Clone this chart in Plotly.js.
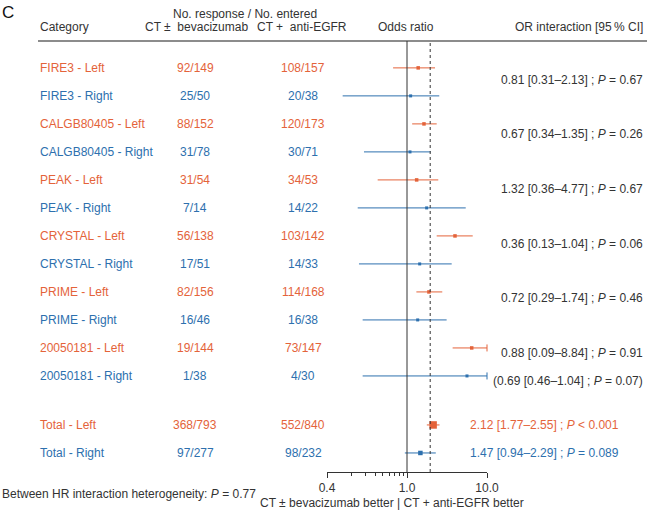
<!DOCTYPE html>
<html><head><meta charset="utf-8">
<script src="https://cdn.plot.ly/plotly-3.0.1.min.js"></script>
<style>html,body{margin:0;padding:0;background:#fff;} #chart{width:647px;height:512px;}</style>
</head><body><div id="chart"></div>
<script>
// ---------- data ----------
const categories = ["FIRE3 - Left","FIRE3 - Right","CALGB80405 - Left","CALGB80405 - Right","PEAK - Left","PEAK - Right","CRYSTAL - Left","CRYSTAL - Right","PRIME - Left","PRIME - Right","20050181 - Left","20050181 - Right","Total - Left","Total - Right"];
const sides = ["Left","Right","Left","Right","Left","Right","Left","Right","Left","Right","Left","Right","Left","Right"];
const isTotal = [false,false,false,false,false,false,false,false,false,false,false,false,true,true];
const bevResponse = ["92/149","25/50","88/152","31/78","31/54","7/14","56/138","17/51","82/156","16/46","19/144","1/38","368/793","97/277"];
const egfrResponse = ["108/157","20/38","120/173","30/71","34/53","14/22","103/142","14/33","114/168","16/38","73/147","4/30","552/840","98/232"];
const oddsRatio = [1.38,1.11,1.63,1.09,1.32,1.76,3.98,1.44,1.88,1.36,6.44,5.62,2.12,1.47];
const ciLow     = [0.67,0.157,1.16,0.29,0.43,0.242,2.35,0.251,1.31,0.279,3.72,0.279,1.77,0.94];
const ciHigh    = [2.24,2.53,2.35,1.98,2.46,5.42,6.63,3.62,2.76,3.13,10,10,2.55,2.29];
const pooledOR = 1.95;
const interactionLabels = [
  "0.81 [0.31–2.13] ; <i>P</i> = 0.67",
  "0.67 [0.34–1.35] ; <i>P</i> = 0.26",
  "1.32 [0.36–4.77] ; <i>P</i> = 0.67",
  "0.36 [0.13–1.04] ; <i>P</i> = 0.06",
  "0.72 [0.29–1.74] ; <i>P</i> = 0.46",
  "0.88 [0.09–8.84] ; <i>P</i> = 0.91",
  "(0.69 [0.46–1.04] ; <i>P</i> = 0.07)"
];
const totalLabels = ["2.12 [1.77–2.55] ; <i>P</i> &lt; 0.001", "1.47 [0.94–2.29] ; <i>P</i> = 0.089"];
const axisTickValues = [0.1, 1, 10];
const axisTickText = ["0.4", "1.0", "10.0"];
const minorTickValues = [0.2,0.3,0.4,0.5,0.6,0.7,0.8,0.9];
const heterogeneityText = "Between HR interaction heterogeneity: <i>P</i> = 0.77";
const axisCaption = "CT ± bevacizumab better | CT + anti-EGFR better";

// ---------- styling / layout ----------
const ORANGE = "#E4633A", BLUE = "#2D70AE", DARK = "#333333";
const FONT = "Liberation Sans, Arial, Helvetica, sans-serif";
const colorOf = s => s === "Left" ? ORANGE : BLUE;
const L = 327, R = 487, T = 41, B = 472;           // plot area in pixels
const px = x => (x - L) / (R - L);                 // pixel x -> paper x
const py = y => (B - y) / (B - T);                 // pixel y -> paper y
const rowY = i => isTotal[i] ? i + 0.75 : i;       // gap before totals

const traces = [];
function addGroup(filter, size) {
  const idx = categories.map((_, i) => i).filter(filter);
  if (!idx.length) return;
  const col = colorOf(sides[idx[0]]);
  traces.push({
    type: "scatter", mode: "markers",
    x: idx.map(i => oddsRatio[i]), y: idx.map(i => rowY(i)),
    marker: {symbol: "square", size: size, color: col, line: {width: 0}},
    error_x: {type: "data", symmetric: false,
      array: idx.map(i => ciHigh[i] - oddsRatio[i]),
      arrayminus: idx.map(i => oddsRatio[i] - ciLow[i]),
      thickness: 1, width: 0, color: col},
    cliponaxis: false, hoverinfo: "skip"
  });
}
addGroup(i => !isTotal[i] && sides[i] === "Left", 3.5);
addGroup(i => !isTotal[i] && sides[i] === "Right", 3);
addGroup(i => isTotal[i] && sides[i] === "Left", 7.5);
addGroup(i => isTotal[i] && sides[i] === "Right", 4.5);
// clipped CI markers
const clipped = categories.map((_, i) => i).filter(i => ciHigh[i] >= 10);
traces.push({
  type: "scatter", mode: "markers",
  x: clipped.map(i => ciHigh[i]), y: clipped.map(i => rowY(i)),
  marker: {symbol: "line-ns", size: 5, line: {width: 1, color: clipped.map(i => colorOf(sides[i]))}},
  cliponaxis: false, hoverinfo: "skip"
});

const ann = [];
const A = (o) => ann.push(Object.assign({showarrow: false, font: {family: FONT, size: 12, color: DARK}}, o));
categories.forEach((c, i) => {
  const col = colorOf(sides[i]);
  A({text: c, xref: "paper", yref: "y", x: px(38), y: rowY(i), xanchor: "left", yanchor: "middle", font: {family: FONT, size: 12, color: col}});
  A({text: bevResponse[i], xref: "paper", yref: "y", x: px(195), y: rowY(i), xanchor: "center", yanchor: "middle", font: {family: FONT, size: 12, color: col}});
  A({text: egfrResponse[i], xref: "paper", yref: "y", x: px(303), y: rowY(i), xanchor: "center", yanchor: "middle", font: {family: FONT, size: 12, color: col}});
});
const interactionPixY = [80, 134, 189, 244, 298, 353, 381];
interactionLabels.forEach((t, k) => {
  A({text: t, xref: "paper", yref: "paper", x: px(645), y: py(interactionPixY[k]), xanchor: "right", yanchor: "middle"});
});
totalLabels.forEach((t, k) => {
  const i = 12 + k;
  A({text: t, xref: "paper", yref: "y", x: px(468), y: rowY(i), xanchor: "left", yanchor: "middle", font: {family: FONT, size: 12, color: colorOf(sides[i])}});
});
// headers
A({text: "C", xref: "paper", yref: "paper", x: px(0), y: py(12), xanchor: "left", yanchor: "middle", font: {family: FONT, size: 17, color: "#111"}});
A({text: "No. response / No. entered", xref: "paper", yref: "paper", x: px(245), y: py(14), xanchor: "center", yanchor: "middle"});
A({text: "Category", xref: "paper", yref: "paper", x: px(38), y: py(27), xanchor: "left", yanchor: "middle"});
A({text: "CT ±  bevacizumab", xref: "paper", yref: "paper", x: px(196), y: py(27), xanchor: "center", yanchor: "middle"});
A({text: "CT +  anti-EGFR", xref: "paper", yref: "paper", x: px(302), y: py(27), xanchor: "center", yanchor: "middle"});
A({text: "Odds ratio", xref: "paper", yref: "paper", x: px(406), y: py(27), xanchor: "center", yanchor: "middle"});
A({text: "OR interaction [95\u2009% CI]", xref: "paper", yref: "paper", x: px(645), y: py(27), xanchor: "right", yanchor: "middle"});
// footer
A({text: heterogeneityText, xref: "paper", yref: "paper", x: px(0), y: py(494), xanchor: "left", yanchor: "middle"});
A({text: axisCaption, xref: "paper", yref: "paper", x: px(392), y: py(503), xanchor: "center", yanchor: "middle"});

const layout = {
  width: 647, height: 512,
  margin: {l: L, r: 647 - R, t: T, b: 512 - B, pad: 0},
  paper_bgcolor: "#fff", plot_bgcolor: "#fff",
  showlegend: false,
  font: {family: FONT, size: 12, color: DARK},
  xaxis: {
    type: "log", range: [Math.log10(axisTickValues[0]), Math.log10(axisTickValues[2])],
    tickmode: "array", tickvals: axisTickValues, ticktext: axisTickText,
    ticks: "outside", ticklen: 5, tickwidth: 1, tickcolor: DARK,
    showline: true, linecolor: DARK, linewidth: 1,
    showgrid: false, zeroline: false, fixedrange: true,
    tickfont: {family: FONT, size: 12, color: DARK},
    minor: {tickmode: "array", tickvals: minorTickValues, ticks: "outside", ticklen: 3, tickwidth: 1, tickcolor: DARK, showgrid: false}
  },
  yaxis: {range: [14.43, -0.96], visible: false, fixedrange: true},
  shapes: [
    {type: "line", xref: "paper", yref: "paper", x0: px(38), x1: px(647), y0: 1, y1: 1, line: {color: "#8c8c8c", width: 2}},
    {type: "line", xref: "x", yref: "paper", x0: 1, x1: 1, y0: 0, y1: 1, line: {color: DARK, width: 1}},
    {type: "line", xref: "x", yref: "paper", x0: pooledOR, x1: pooledOR, y0: 0, y1: 1, line: {color: DARK, width: 1, dash: "dot"}}
  ],
  annotations: ann
};
Plotly.newPlot("chart", traces, layout, {displayModeBar: false, staticPlot: true});
</script>
</body></html>
